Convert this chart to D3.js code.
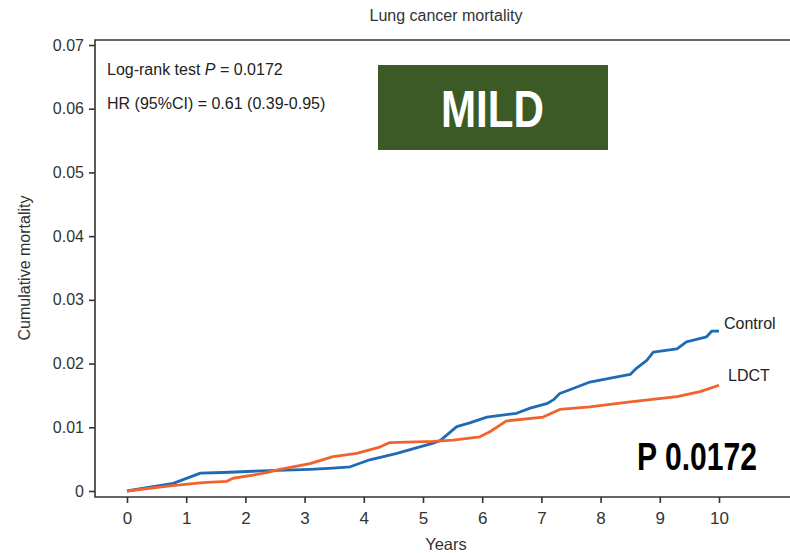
<!DOCTYPE html>
<html lang="en">
<head>
    <meta charset="UTF-8">
    <title>Lung cancer mortality - MILD</title>
    <script src="https://d3js.org/d3.v7.min.js"></script>
</head>
<body>
    <svg id="chart" width="790" height="553"></svg>
    <script type="text/javascript">
        // Kaplan-Meier style cumulative mortality
        var controlYears = [0, 0.78, 1.24, 1.62, 2.13, 3.09, 3.48, 3.77, 4.10, 4.56, 5.17, 5.29, 5.57, 5.79, 6.08, 6.58, 6.81, 7.09, 7.20, 7.31, 7.48, 7.82, 8.21, 8.50, 8.61, 8.78, 8.89, 9.29, 9.45, 9.79, 9.88, 10.0]
        var controlMort  = [0, 0.0012, 0.0028, 0.0029, 0.0031, 0.0034, 0.0036, 0.0038, 0.0049, 0.0059, 0.0075, 0.0079, 0.0101, 0.0107, 0.0116, 0.0122, 0.0130, 0.0137, 0.0143, 0.0153, 0.0159, 0.0171, 0.0178, 0.0183, 0.0193, 0.0205, 0.0218, 0.0223, 0.0234, 0.0242, 0.0251, 0.0251]
        var ldctYears = [0, 0.73, 1.28, 1.68, 1.79, 2.13, 2.36, 2.58, 3.09, 3.48, 3.88, 4.27, 4.44, 5.17, 5.51, 5.96, 6.13, 6.41, 7.03, 7.31, 7.82, 8.50, 9.29, 9.68, 10.0]
        var ldctMort  = [0, 0.0008, 0.0013, 0.0015, 0.0020, 0.0025, 0.0029, 0.0034, 0.0043, 0.0054, 0.0059, 0.0069, 0.0076, 0.0078, 0.0080, 0.0085, 0.0093, 0.0110, 0.0116, 0.0128, 0.0132, 0.0140, 0.0148, 0.0156, 0.0166]
        var xTicks = [0, 1, 2, 3, 4, 5, 6, 7, 8, 9, 10]
        var yTicks = [0, 0.01, 0.02, 0.03, 0.04, 0.05, 0.06, 0.07]

        var svg = d3.select("#chart")
        var font = "'Liberation Sans', Arial, sans-serif"
        var frame = {left: 95, right: 790, top: 40, bottom: 497}

        var x = d3.scaleLinear().domain([0, 10]).range([127, 719])
        var y = d3.scaleLinear().domain([0, 0.07]).range([491, 45])

        svg.append("rect").attr("width", 790).attr("height", 553).attr("fill", "white")

        // frame: left axis line, top line, bottom line
        svg.append("path")
            .attr("d", `M${frame.right},${frame.top}H${frame.left}V${frame.bottom}H${frame.right}`)
            .attr("fill", "none")
            .attr("stroke", "#333")
            .attr("stroke-width", 1.6)

        var yAxis = d3.axisLeft(y)
            .tickValues(yTicks)
            .tickSize(6)
            .tickPadding(5)
            .tickFormat(d => d === 0 ? "0" : d3.format(".2f")(d))
        var gy = svg.append("g")
            .attr("transform", `translate(${frame.left},0)`)
            .call(yAxis)
        gy.select(".domain").remove()
        gy.selectAll("line").attr("stroke", "#333").attr("stroke-width", 1.6)
        gy.selectAll("text")
            .attr("fill", "#333")
            .style("font-family", font)
            .style("font-size", "16px")

        var xAxis = d3.axisBottom(x)
            .tickValues(xTicks)
            .tickSize(6)
            .tickPadding(9)
            .tickFormat(d3.format("d"))
        var gx = svg.append("g")
            .attr("transform", `translate(0,${frame.bottom})`)
            .call(xAxis)
        gx.select(".domain").remove()
        gx.selectAll("line").attr("stroke", "#333").attr("stroke-width", 1.6)
        gx.selectAll("text")
            .attr("fill", "#333")
            .style("font-family", font)
            .style("font-size", "17px")

        // titles
        svg.append("text")
            .attr("x", 446).attr("y", 21)
            .attr("text-anchor", "middle")
            .attr("fill", "#333")
            .style("font-family", font).style("font-size", "16px")
            .text("Lung cancer mortality")
        svg.append("text")
            .attr("x", 446).attr("y", 550)
            .attr("text-anchor", "middle")
            .attr("fill", "#333")
            .style("font-family", font).style("font-size", "16.5px")
            .text("Years")
        svg.append("text")
            .attr("transform", "translate(30,268) rotate(-90)")
            .attr("text-anchor", "middle")
            .attr("fill", "#333")
            .style("font-family", font).style("font-size", "16px")
            .text("Cumulative mortality")

        // curves
        var line = d3.line()
            .x(d => x(d[0]))
            .y(d => y(d[1]))
        var series = [
            {name: "Control", years: controlYears, mort: controlMort, color: "#1f6ab4"},
            {name: "LDCT", years: ldctYears, mort: ldctMort, color: "#f2622e"}
        ]
        series.forEach(s => {
            var pts = s.years.map((t, i) => [t, s.mort[i]])
            svg.append("path")
                .datum(pts)
                .attr("d", line)
                .attr("fill", "none")
                .attr("stroke", s.color)
                .attr("stroke-width", 2.8)
                .attr("stroke-linejoin", "round")
        })

        svg.append("text")
            .attr("x", x(10) + 5).attr("y", y(controlMort[controlMort.length - 1]) - 2)
            .attr("fill", "#222")
            .style("font-family", font).style("font-size", "16px")
            .text("Control")
        svg.append("text")
            .attr("x", x(10) + 9).attr("y", y(ldctMort[ldctMort.length - 1]) - 4)
            .attr("fill", "#222")
            .style("font-family", font).style("font-size", "16px")
            .text("LDCT")

        // statistics text
        var stat1 = svg.append("text")
            .attr("x", 107).attr("y", 75)
            .attr("fill", "#222")
            .style("font-family", font).style("font-size", "16px")
        stat1.append("tspan").text("Log-rank test ")
        stat1.append("tspan").style("font-style", "italic").text("P")
        stat1.append("tspan").text(" = 0.0172")
        svg.append("text")
            .attr("x", 107).attr("y", 109)
            .attr("fill", "#222")
            .style("font-family", font).style("font-size", "16px")
            .text("HR (95%CI) = 0.61 (0.39-0.95)")

        // MILD badge
        svg.append("rect")
            .attr("x", 378).attr("y", 65)
            .attr("width", 230).attr("height", 85)
            .attr("fill", "#3c5a25")
        svg.append("text")
            .attr("x", 441).attr("y", 127)
            .attr("textLength", 103)
            .attr("lengthAdjust", "spacingAndGlyphs")
            .attr("fill", "white")
            .style("font-family", font).style("font-weight", "bold").style("font-size", "52px")
            .text("MILD")

        svg.append("text")
            .attr("x", 637).attr("y", 470)
            .attr("textLength", 120)
            .attr("lengthAdjust", "spacingAndGlyphs")
            .attr("fill", "black")
            .style("font-family", font).style("font-weight", "bold").style("font-size", "38px")
            .text("P 0.0172")
    </script>
</body>
<style>
body {
    margin: 0;
    overflow: hidden;
}
svg {
    display: block;
}
</style>
</html>
